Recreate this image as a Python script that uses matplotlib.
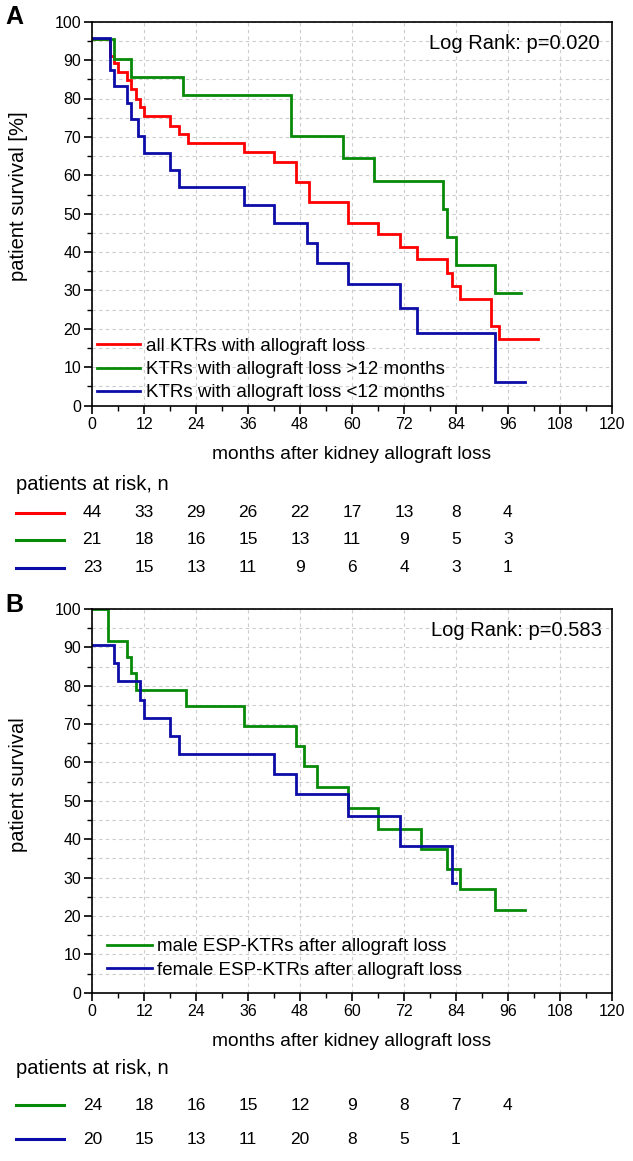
import matplotlib
matplotlib.use("Agg")
import matplotlib.pyplot as plt
import matplotlib.transforms as mtransforms
from matplotlib.ticker import MultipleLocator

plt.rcParams["font.family"] = ["Liberation Sans", "DejaVu Sans"]

RED = "#ff0000"
GREEN = "#078a07"
BLUE = "#0c0ca8"

# ---- panel A: survival steps (months, %)
a_red_t = [0, 4, 5, 6, 8, 9, 10, 11, 12, 18, 20, 22, 35, 42, 47, 50, 59, 66, 71, 75, 82, 83, 85, 92, 94, 103]
a_red_s = [95.5, 91.1, 89.2, 87.0, 84.8, 82.4, 79.9, 77.7, 75.4, 72.8, 70.7, 68.5, 66.0, 63.4, 58.2, 53.0,
           47.5, 44.6, 41.4, 38.1, 34.6, 31.2, 27.8, 20.8, 17.4, 17.4]
a_green_t = [0, 5, 9, 21, 46, 58, 65, 81, 82, 84, 93, 99]
a_green_s = [95.5, 90.4, 85.7, 80.9, 70.2, 64.4, 58.6, 51.2, 43.9, 36.6, 29.3, 29.3]
a_blue_t = [0, 4, 5, 8, 9, 10.6, 12, 18, 20, 35, 42, 49.6, 52, 59, 71, 75, 93, 100]
a_blue_s = [95.7, 87.4, 83.3, 78.7, 74.7, 70.2, 65.7, 61.4, 57.0, 52.3, 47.5, 42.4, 37.1, 31.7, 25.4, 19.0,
            6.3, 6.3]
a_labels = ["all KTRs with allograft loss",
            "KTRs with allograft loss >12 months",
            "KTRs with allograft loss <12 months"]
a_risk = [
    ["44", "33", "29", "26", "22", "17", "13", "8", "4"],
    ["21", "18", "16", "15", "13", "11", "9", "5", "3"],
    ["23", "15", "13", "11", "9", "6", "4", "3", "1"],
]

# ---- panel B
b_green_t = [0, 3.7, 8, 9, 10, 21.6, 35, 47, 49, 52, 59, 66, 76, 82, 85, 93, 100]
b_green_s = [100, 91.7, 87.4, 83.2, 78.8, 74.7, 69.5, 64.3, 59.0, 53.5, 48.1, 42.7, 37.5, 32.3, 26.9,
             21.5, 21.5]
b_blue_t = [0, 5, 6, 11, 12, 18, 20, 42, 47, 59, 71, 83, 84]
b_blue_s = [90.6, 85.8, 81.2, 76.2, 71.5, 66.9, 62.2, 56.9, 51.7, 46.0, 38.3, 28.7, 28.7]
b_labels = ["male ESP-KTRs after allograft loss",
            "female ESP-KTRs after allograft loss"]
b_risk = [
    ["24", "18", "16", "15", "12", "9", "8", "7", "4"],
    ["20", "15", "13", "11", "20", "8", "5", "1"],
]

risk_months = [0, 12, 24, 36, 48, 60, 72, 84, 96]

W, H = 633, 1161


def fy(py):
    return 1 - py / H


def style_axes(ax, ylabel, ylab_y):
    ax.set_xlim(0, 120)
    ax.set_ylim(0, 100)
    ax.xaxis.set_major_locator(MultipleLocator(12))
    ax.xaxis.set_minor_locator(MultipleLocator(6))
    ax.yaxis.set_major_locator(MultipleLocator(10))
    ax.yaxis.set_minor_locator(MultipleLocator(5))
    ax.tick_params(which="major", direction="out", length=6, width=1.2, labelsize=11.5, pad=2)
    ax.tick_params(which="minor", direction="out", length=3.5, width=1.0)
    ax.grid(which="major", color="#cccccc", linestyle=(0, (3, 3)), linewidth=0.8)
    ax.yaxis.grid(which="minor", color="#cccccc", linestyle=(0, (3, 3)), linewidth=0.8)
    ax.set_axisbelow(True)
    for sp in ax.spines.values():
        sp.set_linewidth(1.2)
    ax.set_xlabel("months after kidney allograft loss", fontsize=13.8, labelpad=10)
    ax.set_ylabel(ylabel, fontsize=14.5)
    ax.yaxis.set_label_coords(-0.124, ylab_y)


def km(ax, t, s, color, label):
    ax.step(t, s, where="post", color=color, lw=2.0, label=label, solid_joinstyle="miter")


def risk_table(fig, ax, head_y, row_ys, rows, colors):
    tr = mtransforms.blended_transform_factory(ax.transData, fig.transFigure)
    fig.text(16 / W, fy(head_y), "patients at risk, n", fontsize=14.5, va="center", ha="left")
    for row, y, c in zip(rows, row_ys, colors):
        fig.add_artist(plt.Line2D([16 / W, 64 / W], [fy(y), fy(y)], color=c, lw=2.2,
                                  transform=fig.transFigure))
        for m, v in zip(risk_months, row):
            fig.text(m, fy(y), v, fontsize=12.5, ha="center", va="center", transform=tr)


fig = plt.figure(figsize=(W / 100, H / 100), dpi=100)
x0, x1 = 92.3, 611.7
axA = fig.add_axes([x0 / W, fy(405.7), (x1 - x0) / W, (405.7 - 21.7) / H])
axB = fig.add_axes([x0 / W, fy(992.7), (x1 - x0) / W, (992.7 - 609) / H])

# panel A
km(axA, a_red_t, a_red_s, RED, a_labels[0])
km(axA, a_green_t, a_green_s, GREEN, a_labels[1])
km(axA, a_blue_t, a_blue_s, BLUE, a_labels[2])
style_axes(axA, "patient survival [%]", 0.546)
axA.text(0.976, 0.93, "Log Rank: p=0.020", transform=axA.transAxes, ha="right", va="baseline",
         fontsize=14.5)
axA.legend(loc="lower left", bbox_to_anchor=(0.009, 0.011), frameon=False, fontsize=13.5,
           handlelength=2.3, handletextpad=0.3, labelspacing=0.33, borderpad=0, borderaxespad=0)
fig.text(5 / W, fy(17), "A", fontsize=18, fontweight="bold", va="center", ha="left")

# panel B
km(axB, b_green_t, b_green_s, GREEN, b_labels[0])
km(axB, b_blue_t, b_blue_s, BLUE, b_labels[1])
style_axes(axB, "patient survival", 0.541)
axB.text(0.981, 0.93, "Log Rank: p=0.583", transform=axB.transAxes, ha="right", va="baseline",
         fontsize=14.5)
axB.legend(loc="lower left", bbox_to_anchor=(0.028, 0.037), frameon=False, fontsize=13.5,
           handlelength=2.4, handletextpad=0.3, labelspacing=0.33, borderpad=0, borderaxespad=0)
fig.text(5 / W, fy(605), "B", fontsize=18, fontweight="bold", va="center", ha="left")

risk_table(fig, axA, 485, [512.7, 540, 567.7], a_risk, [RED, GREEN, BLUE])
risk_table(fig, axB, 1069, [1105, 1139], b_risk, [GREEN, BLUE])

fig.savefig("out.png", dpi=100)
